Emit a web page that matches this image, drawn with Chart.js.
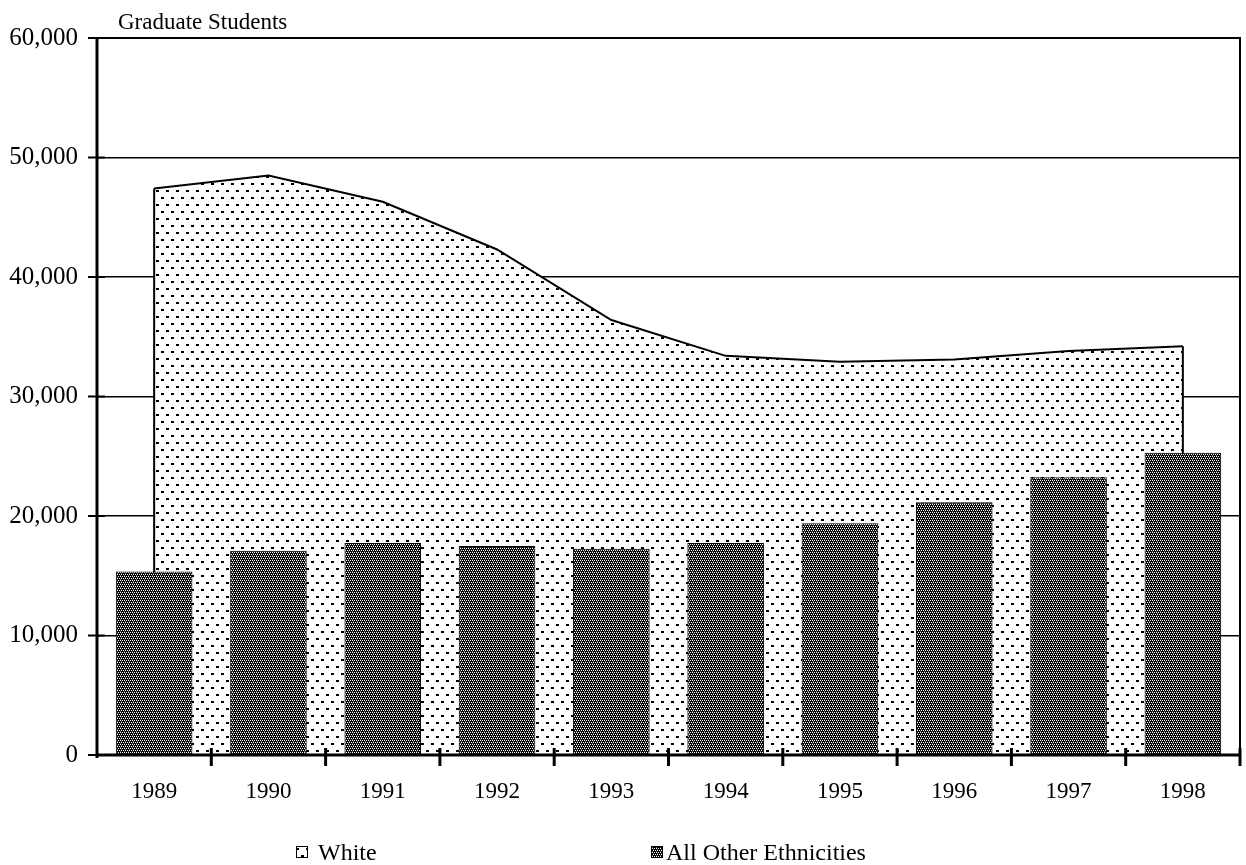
<!DOCTYPE html>
<html>
<head>
<meta charset="utf-8">
<script src="https://cdn.jsdelivr.net/npm/chart.js@4"></script>
<style>
  body { margin: 0; background: #fff; }
  canvas { display: block; }
</style>
</head>
<body>
<canvas id="chart" width="1246" height="865"></canvas>
<script>
// Données
const years = ['1989', '1990', '1991', '1992', '1993', '1994', '1995', '1996', '1997', '1998'];
const whiteStudents = [47400, 48500, 46300, 42300, 36400, 33400, 32900, 33100, 33800, 34200];
const otherStudents = [15350, 17100, 17750, 17500, 17250, 17750, 19400, 21150, 23250, 25300];
const yTicks = [0, 10000, 20000, 30000, 40000, 50000, 60000];

const serif = '"Liberation Serif", "Times New Roman", serif';

/**
 * Motifs de remplissage (points et trame serrée)
 */
function makeDots() {
    const c = document.createElement('canvas');
    c.width = 10; c.height = 14;
    const g = c.getContext('2d');
    g.fillStyle = '#fff';
    g.fillRect(0, 0, 10, 14);
    g.fillStyle = '#000';
    g.fillRect(1, 1, 3, 2);
    g.fillRect(6, 8, 3, 2);
    return g.createPattern(c, 'repeat');
}

function makeWeave() {
    const c = document.createElement('canvas');
    c.width = 4; c.height = 4;
    const g = c.getContext('2d');
    g.fillStyle = '#000';
    g.fillRect(0, 0, 4, 4);
    g.fillStyle = '#fff';
    [[0, 0], [2, 0], [1, 2], [3, 2]].forEach(p => g.fillRect(p[0], p[1], 1, 1));
    g.fillStyle = '#555';
    [[1, 1], [0, 3]].forEach(p => g.fillRect(p[0], p[1], 1, 1));
    return g.createPattern(c, 'repeat');
}

const dots = makeDots();
const weave = makeWeave();

// Cadre, graduations, titre et légende
const decor = {
    id: 'decor',
    afterDatasetDraw(chart, args) {
        if (args.index !== 0) return;
        const ctx = chart.ctx;
        const x = chart.scales.x, y = chart.scales.y;
        const y0 = y.getPixelForValue(0);
        ctx.save();
        ctx.strokeStyle = '#000';
        ctx.lineWidth = 2;
        const first = 0, last = whiteStudents.length - 1;
        ctx.beginPath();
        ctx.moveTo(x.getPixelForValue(first), y.getPixelForValue(whiteStudents[first]));
        ctx.lineTo(x.getPixelForValue(first), y0);
        ctx.moveTo(x.getPixelForValue(last), y.getPixelForValue(whiteStudents[last]));
        ctx.lineTo(x.getPixelForValue(last), y0);
        ctx.stroke();
        ctx.restore();
    },
    afterDatasetsDraw(chart) {
        const ctx = chart.ctx;
        const a = chart.chartArea;
        const y = chart.scales.y;
        ctx.save();
        ctx.strokeStyle = '#000';
        // haut et droite
        ctx.lineWidth = 2;
        ctx.beginPath();
        ctx.moveTo(a.left, a.top);
        ctx.lineTo(a.right, a.top);
        ctx.lineTo(a.right, a.bottom);
        ctx.stroke();
        // axes
        ctx.lineWidth = 3;
        ctx.beginPath();
        ctx.moveTo(a.left, a.top);
        ctx.lineTo(a.left, a.bottom + 3);
        ctx.moveTo(a.left, a.bottom);
        ctx.lineTo(a.right, a.bottom);
        ctx.stroke();
        // graduations Y
        ctx.lineWidth = 2;
        ctx.beginPath();
        yTicks.forEach(v => {
            const py = y.getPixelForValue(v);
            ctx.moveTo(a.left - 9, py);
            ctx.lineTo(a.left + 8, py);
        });
        ctx.stroke();
        // graduations X (entre les catégories)
        const step = (a.right - a.left) / years.length;
        ctx.lineWidth = 3;
        ctx.beginPath();
        for (let i = 1; i <= years.length; i++) {
            const px = a.left + step * i;
            ctx.moveTo(px, a.bottom - 7);
            ctx.lineTo(px, a.bottom + 11);
        }
        ctx.stroke();
        ctx.restore();
    },
    afterDraw(chart) {
        const ctx = chart.ctx;
        ctx.save();
        ctx.fillStyle = '#000';
        ctx.font = '23px ' + serif;
        ctx.textBaseline = 'alphabetic';
        ctx.fillText('Graduate Students', 118, 29);

        // légende
        ctx.lineWidth = 1;
        ctx.strokeStyle = '#000';
        ctx.fillStyle = dots;
        ctx.fillRect(296, 846, 12, 12);
        ctx.strokeRect(296.5, 846.5, 11, 11);
        ctx.fillStyle = weave;
        ctx.fillRect(651, 846, 12, 12);
        ctx.strokeRect(651.5, 846.5, 11, 11);
        ctx.fillStyle = '#000';
        ctx.font = '24px ' + serif;
        ctx.fillText('White', 318, 860);
        ctx.fillText('All Other Ethnicities', 666, 860);
        ctx.restore();
    }
};

new Chart(document.getElementById('chart'), {
    data: {
        labels: years,
        datasets: [{
            type: 'line',
            label: 'White',
            data: whiteStudents,
            order: 2,
            fill: 'origin',
            backgroundColor: dots,
            borderColor: '#000',
            borderWidth: 2,
            tension: 0,
            pointRadius: 0
        }, {
            type: 'bar',
            label: 'All Other Ethnicities',
            data: otherStudents,
            order: 1,
            backgroundColor: weave,
            borderColor: '#000',
            borderWidth: 1,
            barPercentage: 0.67,
            categoryPercentage: 1
        }]
    },
    options: {
        responsive: false,
        animation: false,
        devicePixelRatio: 1,
        layout: { padding: { top: 38, right: 6, left: 0, bottom: 0 } },
        plugins: {
            legend: { display: false },
            tooltip: { enabled: false }
        },
        scales: {
            x: {
                type: 'category',
                offset: true,
                grid: { display: false },
                border: { display: false },
                ticks: {
                    color: '#000',
                    font: { family: serif, size: 23 },
                    padding: 15,
                    maxRotation: 0
                },
                afterFit(scale) { scale.height = 110; }
            },
            y: {
                min: 0,
                max: 60000,
                grid: { color: '#000', lineWidth: 1.5, drawTicks: false },
                border: { display: false },
                ticks: {
                    stepSize: 10000,
                    color: '#000',
                    font: { family: serif, size: 25 },
                    padding: 19,
                    callback: v => v.toLocaleString('en-US')
                },
                afterFit(scale) { scale.width = 97; }
            }
        }
    },
    plugins: [decor]
});
</script>
</body>
</html>
